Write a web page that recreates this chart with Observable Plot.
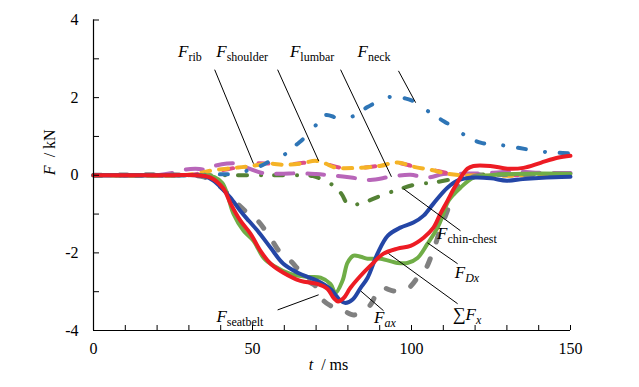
<!DOCTYPE html>
<html><head><meta charset="utf-8">
<script src="https://cdn.jsdelivr.net/npm/d3@7"></script>
<script src="https://cdn.jsdelivr.net/npm/@observablehq/plot@0.6"></script>
<style>body{margin:0;background:#fff} svg{font-family:"Liberation Serif",serif}</style>
</head><body><div id="chart"></div>
<script>
// ---- data (t in ms, F in kN) ----
const xTicks = [0, 50, 100, 150];
const yTicks = [-4, -2, 0, 2, 4];
const xMinor = d3.range(0, 151, 10);
const yMinor = d3.range(-4, 5, 1);

const F_chinChest = [[0,0],[40,0],[57,0],[64,0],[69,-0.02],[71.4,-0.09],[75.5,-0.27],[78,-0.48],[80.2,-0.76],[84.6,-0.71],[90.3,-0.53],[96.5,-0.35],[102.2,-0.22],[106.9,-0.19],[113.2,-0.09],[118.6,0],[150,0]];
const F_lumbar = [[0,0],[20,0],[25,0.06],[29,0.15],[32,0.17],[35,0.15],[38,0.24],[42,0.3],[45,0.3],[49,0.17],[53,0.06],[58,0.04],[65,0.05],[70,0.03],[74.5,0],[81,-0.06],[87,-0.12],[93.4,-0.04],[99.7,0.01],[105,-0.06],[110,0.03],[115,0.04],[122,0.05],[128,0.08],[133,0.1],[138,0.07],[143,0.06],[150,0.06]];
const F_rib = [[0,0],[28,0],[34,0.05],[40,0.12],[46,0.22],[50.3,0.3],[55,0.3],[60,0.27],[66,0.32],[70.5,0.37],[74,0.27],[78,0.19],[85,0.2],[91,0.26],[95.6,0.32],[101,0.22],[106,0.15],[111,0.06],[116,0.01],[120,0],[150,0]];
const F_shoulder = [[0,0],[28,0],[33,0.05],[37,0.12],[42,0.17],[45.5,0.2],[49,0.23],[55,0.3],[60,0.27],[65,0.3],[70,0.37],[73,0.3],[76,0.2],[83,0.19],[90,0.24],[95.6,0.33],[100.6,0.22],[106,0.14],[111.3,0.04],[116.4,0],[150,0]];
const F_neck = [[0,0],[30,0],[38,0.02],[44,0.04],[48.4,0.12],[52.5,0.24],[55.7,0.37],[60.4,0.55],[64,0.8],[66.5,0.98],[69.8,1.28],[73,1.55],[77,1.47],[82,1.53],[86,1.75],[89,1.88],[93.3,2.02],[98,1.98],[101.5,1.87],[105,1.66],[109,1.45],[112,1.3],[116,1.07],[121.7,0.84],[128,0.78],[134,0.7],[141,0.61],[146,0.58],[150,0.56]];
const F_seatbelt = [[0,0],[30,0],[35,-0.05],[40,-0.3],[43,-0.55],[45.3,-0.74],[48.4,-0.97],[51.6,-1.17],[54.1,-1.43],[56.6,-1.74],[58.8,-2.0],[61.9,-2.2],[64.2,-2.41],[67.3,-2.72],[69.8,-2.85],[72,-3.2],[74.5,-3.36],[78.6,-3.49],[81.8,-3.6],[84,-3.52],[87,-3.35],[89.3,-3.0],[90.9,-2.9],[94.3,-2.98],[98.7,-2.93],[102.8,-2.54],[104.5,-2.4],[106,-2.13],[107.2,-1.87],[109,-1.4],[111.3,-0.91],[113.2,-0.48],[115.4,-0.19],[118.6,-0.06],[122,0],[150,0]];
const F_Dx = [[0,0],[25,0],[35,0],[38,-0.05],[40.5,-0.2],[42.1,-0.5],[44,-0.99],[47.2,-1.43],[50.3,-1.69],[53.5,-2.13],[56.6,-2.33],[61.9,-2.54],[67.3,-2.62],[71.4,-2.64],[74.5,-2.8],[76.1,-3.03],[78.3,-2.72],[79.9,-2.25],[81.8,-2.07],[84,-2.1],[86.2,-2.15],[90.3,-2.15],[95.6,-2.26],[98.7,-2.26],[101.9,-2.13],[105,-1.77],[108.2,-1.35],[110,-0.99],[111.6,-0.66],[115.4,-0.32],[119.5,-0.06],[124.8,0],[135.2,0.04],[150,0.04]];
const F_ax = [[0,0],[25,0],[32,0],[35,-0.03],[37.7,-0.14],[40.5,-0.35],[43.1,-0.58],[46.2,-0.92],[48.9,-1.18],[51.6,-1.43],[55.7,-1.87],[59.7,-2.28],[64.2,-2.51],[70.4,-2.72],[74.5,-2.93],[77.7,-3.23],[79.2,-3.29],[81.5,-3.2],[84,-2.9],[86.2,-2.64],[89.3,-2.02],[92.5,-1.56],[96.5,-1.35],[100.6,-1.22],[103.8,-1.04],[106.9,-0.73],[111.3,-0.32],[115,-0.12],[120,-0.06],[125,-0.08],[130,-0.14],[135,-0.1],[140,-0.07],[145,-0.05],[150,-0.04]];
const F_sum = [[0,0],[25,0],[32,0],[36.8,-0.06],[40.9,-0.35],[43.1,-0.73],[46.2,-1.17],[49.4,-1.51],[52.5,-1.95],[55.7,-2.28],[59.7,-2.51],[65.1,-2.72],[70.4,-2.8],[73.6,-2.93],[75.5,-3.16],[76.9,-3.25],[78.6,-3.17],[80.8,-2.9],[84,-2.59],[87.1,-2.33],[91.2,-2.02],[95.6,-1.89],[99.7,-1.82],[103.8,-1.61],[106.9,-1.35],[109.1,-0.99],[111.3,-0.66],[113.3,-0.35],[115.4,-0.06],[117.6,0.17],[119.5,0.24],[124.8,0.24],[130.2,0.17],[135.2,0.19],[140.6,0.32],[145.9,0.45],[150,0.5]];

// ---- styling per series (draw order) ----
const series = [
  {data: F_chinChest, stroke: "#548235", width: 4, dash: "9,14,0.1,13"},
  {data: F_lumbar,    stroke: "#b866b9", width: 4, dash: "17,14"},
  {data: F_rib,       stroke: "#de4f86", width: 4, dash: "10,26", offset: 14},
  {data: F_shoulder,  stroke: "#f5b326", width: 4, dash: "9,9"},
  {data: F_neck,      stroke: "#2e75b6", width: 4, dash: "8,19,0.1,15"},
  {data: F_seatbelt,  stroke: "#808080", width: 5, dash: "8,18"},
  {data: F_Dx,        stroke: "#70ad47", width: 4},
  {data: F_ax,        stroke: "#2446a6", width: 4},
  {data: F_sum,       stroke: "#ed1c24", width: 4}
];

// ---- annotations (data coordinates) ----
const annotations = [
  {parts: [["F",17,true,0],["rib",12,false,4]], at: [30.5, 3.03], from: [38.1, 2.72], to: [50.3, 0.30]},
  {parts: [["F",17,true,0],["shoulder",12,false,4]], at: [46.9, 3.03], from: [57.9, 2.72], to: [70.8, 0.37]},
  {parts: [["F",17,true,0],["lumbar",12,false,4]], at: [68.9, 3.03], from: [77.7, 2.72], to: [93.7, -0.04]},
  {parts: [["F",17,true,0],["neck",12,false,4]], at: [88.4, 3.03], from: [95.9, 2.69], to: [101.3, 1.87]},
  {parts: [["F",17,true,0],["chin-chest",12,false,4]], at: [117.6, -1.66], from: [115.4, -1.43], to: [97.5, -0.35]},
  {parts: [["F",17,true,0],["Dx",12,true,4]], at: [117.6, -2.67], from: [114.5, -2.28], to: [105, -1.74]},
  {parts: [["\u2211",18,false,0],["F",17,true,0],["x",12,true,4]], at: [117.6, -3.75], from: [114.5, -3.31], to: [92.8, -2.02]},
  {parts: [["F",17,true,0],["ax",12,true,4]], at: [91.8, -3.83], from: [91.2, -3.49], to: [84, -2.98]},
  {parts: [["F",17,true,0],["seatbelt",12,false,4]], at: [46.2, -3.8], from: [57.9, -3.47], to: [70.8, -3.08]}
];

const marks = [];
for (const s of series) {
  marks.push(Plot.line(s.data, {
    x: d => d[0], y: d => d[1], stroke: s.stroke, strokeWidth: s.width,
    strokeDasharray: s.dash, strokeDashoffset: s.offset, strokeLinecap: "round",
    strokeLinejoin: "round", curve: "catmull-rom"
  }));
}
marks.push(Plot.link(annotations, {
  x1: d => d.from[0], y1: d => d.from[1], x2: d => d.to[0], y2: d => d.to[1],
  stroke: "#000", strokeWidth: 1
}));
marks.push(Plot.ruleX([0], {stroke: "#000", strokeWidth: 1.2}));
marks.push(Plot.ruleY([-4], {stroke: "#000", strokeWidth: 1.2}));
marks.push(Plot.axisY(yTicks, {tickSize: 0, tickPadding: 15, tickFormat: d => String(d), fontSize: 16, label: null}));
marks.push(Plot.axisY(yMinor, {tickSize: -6, fill: "none", label: null, stroke: "#000"}));
marks.push(Plot.axisX(xTicks, {tickSize: 0, tickPadding: 12, tickFormat: d => String(d), fontSize: 16, label: null}));
marks.push(Plot.axisX(xMinor, {tickSize: -5, fill: "none", label: null, stroke: "#000"}));

const chart = Plot.plot({
  width: 639, height: 387,
  marginLeft: 93, marginRight: 69, marginTop: 19.5, marginBottom: 57,
  x: {domain: [0, 150]},
  y: {domain: [-4, 4]},
  style: {fontFamily: "Liberation Serif, serif", fontSize: "16px", color: "#000", background: "#fff"},
  marks
});
document.getElementById("chart").append(chart);

const sx = chart.scale("x"), sy = chart.scale("y");
const svg = d3.select(chart);
for (const a of annotations) {
  const t = svg.append("text")
    .attr("x", sx.apply(a.at[0])).attr("y", sy.apply(a.at[1]))
    .attr("font-family", "Liberation Serif, serif").attr("fill", "#000");
  let prev = 0;
  for (const [txt, size, italic, dy] of a.parts) {
    t.append("tspan").text(txt).attr("font-size", size)
      .attr("font-style", italic ? "italic" : "normal").attr("dy", dy - prev);
    prev = dy;
  }
}
// axis titles
const xt = svg.append("text").attr("x", (sx.apply(0) + sx.apply(150)) / 2 - 3).attr("y", 370)
  .attr("text-anchor", "middle").attr("font-size", 16).attr("font-family", "Liberation Serif, serif");
xt.append("tspan").attr("font-style", "italic").text("t");
xt.append("tspan").text("  / ms");
const yt = svg.append("text").attr("transform", `translate(55,${sy.apply(0.58)}) rotate(-90)`)
  .attr("text-anchor", "middle").attr("font-size", 16).attr("font-family", "Liberation Serif, serif");
yt.append("tspan").attr("font-style", "italic").text("F");
yt.append("tspan").text("  / kN");
</script>
</body></html>
